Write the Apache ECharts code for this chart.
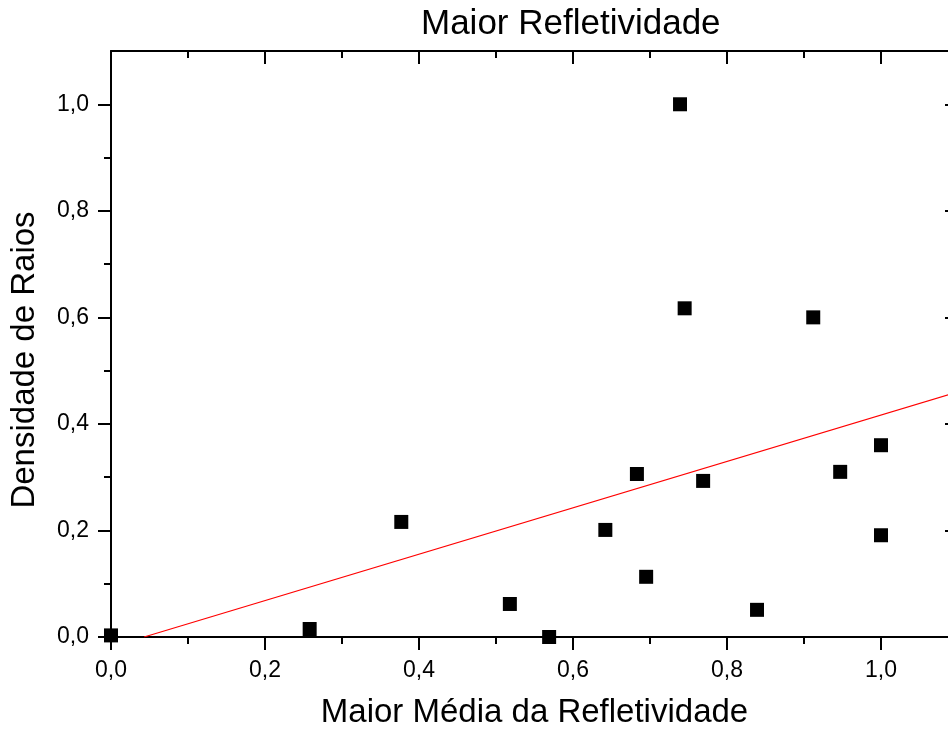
<!DOCTYPE html>
<html>
<head>
<meta charset="utf-8">
<script src="https://cdn.jsdelivr.net/npm/echarts@6/dist/echarts.min.js"></script>
<style>
html,body{margin:0;padding:0;background:#fff;}
#chart{width:948px;height:729px;}
</style>
</head>
<body>
<div id="chart"></div>
<script>
// ---- data ----
const titleText = 'Maior Refletividade';
const xName = 'Maior Média da Refletividade';
const yName = 'Densidade de Raios';

const pointX = [0.000, 0.258, 0.377, 0.518, 0.569, 0.642, 0.683, 0.695, 0.739, 0.745, 0.769, 0.839, 0.912, 0.947, 1.000, 1.000];
const pointY = [0.003, 0.015, 0.216, 0.062, 0.000, 0.201, 0.306, 0.113, 1.000, 0.617, 0.293, 0.051, 0.600, 0.310, 0.360, 0.191];

const fitX = [0.043, 1.1];
const fitY = [0.000, 0.460];

const xTickValues = [0, 0.2, 0.4, 0.6, 0.8, 1.0];
const xTickLabels = ['0,0', '0,2', '0,4', '0,6', '0,8', '1,0'];
const xMinorValues = [0.1, 0.3, 0.5, 0.7, 0.9];
const yTickValues = [0, 0.2, 0.4, 0.6, 0.8, 1.0];
const yTickLabels = ['0,0', '0,2', '0,4', '0,6', '0,8', '1,0'];
const yMinorValues = [0.1, 0.3, 0.5, 0.7, 0.9];

const xRange = [0, 1.1];
const yRange = [0, 1.1];

// ---- chart ----
const FONT = "'Liberation Sans', Arial, sans-serif";
const chart = echarts.init(document.getElementById('chart'), null, {renderer: 'canvas'});

function labelFor(values, labels) {
  return function (v) {
    for (let i = 0; i < values.length; i++) {
      if (Math.abs(values[i] - v) < 1e-6) return labels[i];
    }
    return '';
  };
}

function mkAxis(opts) {
  const base = {
    type: 'value',
    min: opts.range[0],
    max: opts.range[1],
    position: opts.position,
    splitLine: {show: false},
    axisLine: {show: opts.line, onZero: false, lineStyle: {color: '#000', width: 2}},
    axisTick: {
      show: true,
      inside: opts.inside,
      length: opts.len,
      customValues: opts.ticks,
      lineStyle: {color: '#000', width: 2}
    },
    axisLabel: opts.labels ? {
      show: true,
      customValues: opts.ticks,
      formatter: labelFor(opts.ticks, opts.labels),
      color: '#000',
      fontSize: 23,
      fontFamily: FONT,
      margin: opts.margin
    } : {show: false}
  };
  return Object.assign(base, opts.extra || {});
}

const points = pointX.map((x, i) => [x, pointY[i]]);
const fit = fitX.map((x, i) => [x, fitY[i]]);

chart.setOption({
  backgroundColor: '#fff',
  animation: false,
  title: {
    text: titleText,
    left: 421,
    top: 7,
    padding: 0,
    textStyle: {fontSize: 35, fontWeight: 'normal', color: '#000', fontFamily: FONT}
  },
  grid: {left: 111, top: 51, width: 847, height: 586, containLabel: false, outerBoundsMode: 'none'},
  xAxis: [
    mkAxis({range: xRange, position: 'bottom', line: true, inside: false, len: 13, ticks: xTickValues, labels: xTickLabels, margin: 22,
      extra: {name: xName, nameLocation: 'middle', nameGap: 59,
        nameTextStyle: {fontSize: 33, color: '#000', fontFamily: FONT}}}),
    mkAxis({range: xRange, position: 'bottom', line: false, inside: false, len: 7, ticks: xMinorValues}),
    mkAxis({range: xRange, position: 'top', line: true, inside: true, len: 13, ticks: xTickValues}),
    mkAxis({range: xRange, position: 'top', line: false, inside: true, len: 7, ticks: xMinorValues})
  ],
  yAxis: [
    mkAxis({range: yRange, position: 'left', line: true, inside: false, len: 13, ticks: yTickValues, labels: yTickLabels, margin: 22}),
    mkAxis({range: yRange, position: 'left', line: false, inside: false, len: 7, ticks: yMinorValues}),
    mkAxis({range: yRange, position: 'right', line: true, inside: true, len: 13, ticks: yTickValues}),
    mkAxis({range: yRange, position: 'right', line: false, inside: true, len: 7, ticks: yMinorValues})
  ],
  graphic: [{
    type: 'text',
    x: 25,
    y: 360,
    rotation: Math.PI / 2,
    style: {
      text: yName,
      fontSize: 33,
      fontFamily: FONT,
      fill: '#000',
      align: 'center',
      verticalAlign: 'middle'
    }
  }],
  series: [
    {
      type: 'line',
      xAxisIndex: 0,
      yAxisIndex: 0,
      data: fit,
      symbol: 'none',
      lineStyle: {color: '#ff0000', width: 1.2},
      z: 3
    },
    {
      type: 'scatter',
      xAxisIndex: 0,
      yAxisIndex: 0,
      data: points,
      symbol: 'rect',
      symbolSize: 14,
      clip: false,
      itemStyle: {color: '#000', opacity: 1},
      z: 4
    }
  ]
});
</script>
</body>
</html>
